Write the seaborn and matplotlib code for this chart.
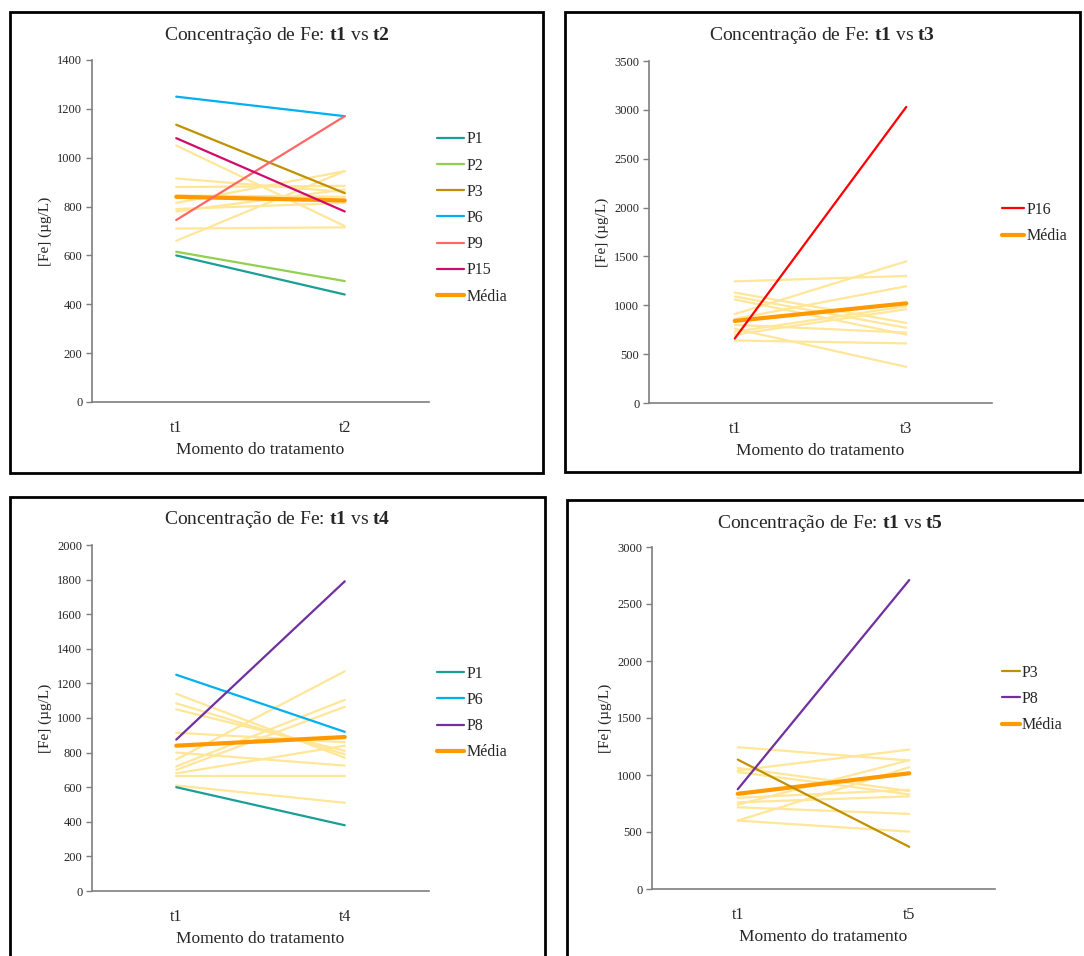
#!/usr/bin/env python3

import matplotlib
matplotlib.use("Agg")
import matplotlib.pyplot as plt
from matplotlib.patches import Rectangle
import seaborn as sns

# Valores ([Fe] em ug/L)

# t1 vs t2
T2_NOMES = ["P1", "P2", "P3", "P6", "P9", "P15"]
T2_INICIO = [600, 615, 1135, 1250, 745, 1080]
T2_FIM = [440, 495, 855, 1170, 1170, 780]
T2_OUTROS_INICIO = [1050, 915, 880, 845, 815, 780, 710, 660, 790]
T2_OUTROS_FIM = [720, 860, 885, 840, 945, 870, 715, 945, 815]
T2_MEDIA = [840, 825]

# t1 vs t3
T3_NOMES = ["P16"]
T3_INICIO = [660]
T3_FIM = [3030]
T3_OUTROS_INICIO = [1245, 910, 1130, 1090, 1060, 860, 760, 700, 640, 800, 730]
T3_OUTROS_FIM = [1300, 1450, 820, 770, 700, 1195, 370, 960, 610, 720, 990]
T3_MEDIA = [840, 1020]

# t1 vs t4
T4_NOMES = ["P1", "P6", "P8"]
T4_INICIO = [600, 1250, 875]
T4_FIM = [380, 920, 1790]
T4_OUTROS_INICIO = [1140, 1085, 1050, 915, 760, 720, 700, 800, 665, 610, 680]
T4_OUTROS_FIM = [770, 790, 810, 860, 1270, 1105, 1065, 725, 665, 510, 840]
T4_MEDIA = [840, 890]

# t1 vs t5
T5_NOMES = ["P3", "P8"]
T5_INICIO = [1135, 875]
T5_FIM = [370, 2710]
T5_OUTROS_INICIO = [1244, 1040, 1062, 1026, 760, 717, 600, 600, 800, 740]
T5_OUTROS_FIM = [1127, 1223, 860, 830, 813, 659, 503, 1068, 870, 1130]
T5_MEDIA = [835, 1015]

CORES = {
    "P1": "#1b9e96",
    "P2": "#92d050",
    "P3": "#bf9000",
    "P6": "#00b0f0",
    "P8": "#7030a0",
    "P9": "#ff6666",
    "P15": "#d10a6b",
    "P16": "#ff0000",
}
COR_FUNDO = "#ffe699"
COR_MEDIA = "#ff9900"

W, H = 1084, 956

sns.set_style("white")
plt.rcParams["font.family"] = ["Liberation Serif", "DejaVu Serif"]
plt.rcParams["mathtext.fontset"] = "custom"
plt.rcParams["mathtext.rm"] = "Liberation Serif"
plt.rcParams["mathtext.bf"] = "Liberation Serif:bold"

fig = plt.figure(figsize=(W / 100, H / 100), dpi=100)


def fx(px):
    return px / W


def fy(py):
    return 1 - py / H


def painel(caixa, eixo, fim, nomes, inicio, final, outros_i, outros_f, media,
           ymax, passo, legenda_xy, alca):
    # moldura do painel
    x0, y0, x1, y1 = caixa
    fig.patches.append(Rectangle((fx(x0), fy(y1)), fx(x1 - x0), (y1 - y0) / H,
                                 transform=fig.transFigure, fill=False,
                                 edgecolor="black", lw=2, clip_on=False))

    l, t, r, b = eixo
    ax = fig.add_axes([fx(l), fy(b), fx(r - l), (b - t) / H])
    cats = ["t1", fim]

    # pacientes sem destaque
    for a, c in zip(outros_i, outros_f):
        sns.lineplot(x=cats, y=[a, c], ax=ax, color=COR_FUNDO, lw=1.6,
                     sort=False, legend=False, zorder=1)

    # pacientes destacados
    for n, a, c in zip(nomes, inicio, final):
        sns.lineplot(x=cats, y=[a, c], ax=ax, color=CORES[n], lw=1.6,
                     sort=False, label=n, zorder=3)

    sns.lineplot(x=cats, y=media, ax=ax, color=COR_MEDIA, lw=3,
                 sort=False, label="Média", zorder=2)

    ax.set_xlim(-0.5, 1.5)
    ax.set_ylim(0, ymax)
    ax.set_yticks(range(0, ymax + 1, passo))
    sns.despine(ax=ax)
    for s in ["left", "bottom"]:
        ax.spines[s].set_color("#7f7f7f")
        ax.spines[s].set_linewidth(1.2)
    ax.tick_params(axis="y", length=4, width=1, color="#7f7f7f",
                   labelsize=9, pad=3, left=True)
    ax.tick_params(axis="x", length=0, labelsize=11.5, pad=13)
    ax.set_xlabel("Momento do tratamento", fontsize=12.5, labelpad=4)
    ax.set_ylabel("[Fe] (µg/L)", fontsize=11, labelpad=4)

    fig.text(fx((x0 + x1) / 2), fy(y0 + 23),
             "Concentração de Fe: $\\mathbf{t1}$ vs $\\mathbf{%s}$" % fim,
             ha="center", va="center", fontsize=14)

    ax.legend(loc="center left", bbox_to_anchor=(fx(legenda_xy[0]), fy(legenda_xy[1])),
              bbox_transform=fig.transFigure, frameon=False, fontsize=11.5,
              handlelength=alca, handletextpad=0.15, labelspacing=0.64,
              borderpad=0, borderaxespad=0)
    return ax


painel((10, 12, 543, 473), (92, 60, 429, 402), "t2", T2_NOMES, T2_INICIO,
       T2_FIM, T2_OUTROS_INICIO, T2_OUTROS_FIM, T2_MEDIA, 1400, 200, (437, 218), 1.7)
painel((565, 12, 1080, 472), (649, 61, 992, 403), "t3", T3_NOMES, T3_INICIO,
       T3_FIM, T3_OUTROS_INICIO, T3_OUTROS_FIM, T3_MEDIA, 3500, 500, (1002, 223), 1.4)
painel((10, 497, 545, 962), (92, 545, 429, 891), "t4", T4_NOMES, T4_INICIO,
       T4_FIM, T4_OUTROS_INICIO, T4_OUTROS_FIM, T4_MEDIA, 2000, 200, (437, 713), 1.7)
painel((567, 500, 1092, 962), (652, 547, 995, 889), "t5", T5_NOMES, T5_INICIO,
       T5_FIM, T5_OUTROS_INICIO, T5_OUTROS_FIM, T5_MEDIA, 3000, 500, (1002, 699), 1.1)

fig.savefig("out.png", dpi=100)
